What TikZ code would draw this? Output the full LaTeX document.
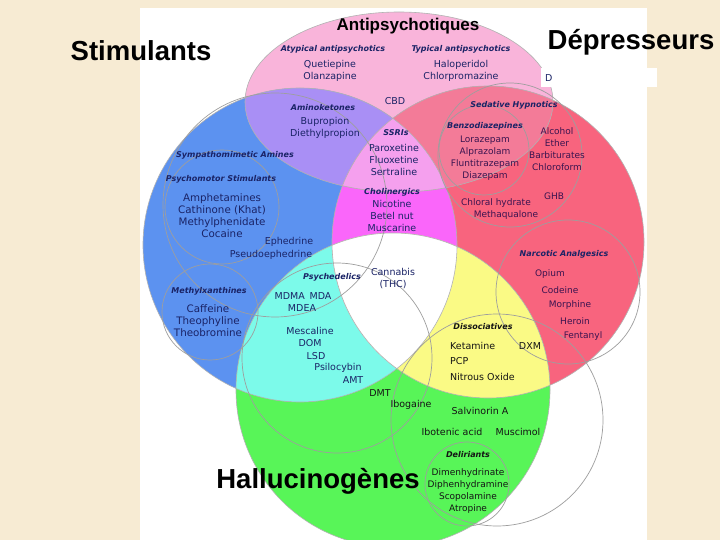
\documentclass[tikz,border=0pt]{standalone}
\usepackage{fontspec}
\setmainfont{DejaVu Sans}
\newfontfamily\titrefont{Liberation Sans}

\definecolor{fond}{HTML}{F7EBD3}
\definecolor{cRose}{HTML}{F9B4DA}
\definecolor{cViolet}{HTML}{A98FF5}
\definecolor{cBleu}{HTML}{5C92F0}
\definecolor{cRouge}{HTML}{F8647E}
\definecolor{cSaumon}{HTML}{F37B98}
\definecolor{cMauve}{HTML}{F5A0EE}
\definecolor{cMagenta}{HTML}{FA66FA}
\definecolor{cCyan}{HTML}{7CFAEA}
\definecolor{cJaune}{HTML}{FAFA85}
\definecolor{cVert}{HTML}{58F558}
\definecolor{cEncre}{HTML}{1A2366}
\definecolor{cPrune}{HTML}{3A1450}
\definecolor{cNoir}{HTML}{141414}

% les quatre grands cercles
\newcommand\cAntipsy{(399,102) ellipse [x radius=154, y radius=90]}
\newcommand\cStim{(300,245) circle [radius=157]}
\newcommand\cDepr{(488,242) circle [radius=156]}
\newcommand\cHallu{(393,390) circle [radius=157]}

\begin{document}
\begin{tikzpicture}[x=1pt,y=-1pt,
    titre/.style={font=\titrefont\bfseries\fontsize{27.5}{30}\selectfont, anchor=base, inner sep=0pt},
    groupe/.style={font=\fontsize{8}{10}\selectfont\bfseries\itshape, text=cEncre, inner sep=0pt},
    liste/.style={font=\fontsize{9.5}{12}\selectfont, text=cEncre, align=center, inner sep=0pt},
    grande/.style={font=\fontsize{10.3}{12}\selectfont, text=cEncre, align=center, inner sep=0pt},
    petite/.style={font=\fontsize{9}{12}\selectfont, text=cPrune, align=center, inner sep=0pt},
    sous/.style={draw=black!38, line width=0.7pt}]
    \useasboundingbox (0,0) rectangle (720,540);

    % Fond
    \fill[fond] (0,0) rectangle (720,540);
    \fill[white] (140,8) rectangle (647,540);

    % Cercles colores
    \begin{scope}
        \clip (140,8) rectangle (647,540);
        \fill[cRose] \cAntipsy;
        \fill[cBleu] \cStim;
        \fill[cRouge] \cDepr;
        \fill[cVert] \cHallu;
        \begin{scope}
            \clip \cStim;
            \fill[cViolet] \cAntipsy;
            \fill[cCyan] \cHallu;
        \end{scope}
        \begin{scope}
            \clip \cDepr;
            \fill[cMagenta] \cStim;
            \fill[cSaumon] \cAntipsy;
            \fill[cJaune] \cHallu;
            \clip \cStim;
            \fill[cMauve] \cAntipsy;
            \fill[white] \cHallu;
        \end{scope}

        % Contours
        \draw[draw=black!30, line width=0.6pt] \cAntipsy \cStim \cDepr \cHallu;
        \draw[sous] (275,205) circle [radius=112];  % amines
        \draw[sous] (222,207) circle [radius=57];   % psychomoteurs
        \draw[sous] (210,312) circle [radius=48];   % methylxanthines
        \draw[sous] (337,358) circle [radius=95];   % psychedeliques
        \draw[sous] (510,155) circle [radius=72];   % sedatifs
        \draw[sous] (484,150) circle [radius=45];   % benzodiazepines
        \draw[sous] (568,292) circle [radius=72];   % narcotiques
        \draw[sous] (497,420) circle [radius=106];  % dissociatifs
        \draw[sous] (467,484) circle [radius=42];   % deliriants
    \end{scope}

    % Encart blanc
    \fill[white] (541,68) rectangle (657,87);
    \node[liste, anchor=west] (dcoupe) at (545,78) {D};

    % Grands titres
    \node[titre] (stim) at (141,61) {Stimulants};
    \node[titre] (depr) at (631,50) {Dépresseurs};
    \node[titre] (hallu) at (318,488) {Hallucinogènes};
    \node[titre, font=\titrefont\bfseries\fontsize{17}{20}\selectfont] (antipsy) at (408,31) {Antipsychotiques};

    % Antipsychotiques
    \node[groupe] (atyp) at (333,49) {Atypical antipsychotics};
    \node[liste] (atypl) at (330,71) {Quetiepine\\Olanzapine};
    \node[groupe] (typ) at (461,49) {Typical antipsychotics};
    \node[liste] (typl) at (461,71) {Haloperidol\\Chlorpromazine};
    \node[groupe] (amino) at (323,108) {Aminoketones};
    \node[liste] (aminol) at (325,128) {Bupropion\\Diethylpropion};
    \node[liste] (cbd) at (395,101) {CBD};

    % Stimulants
    \node[groupe] (sympa) at (235,155) {Sympathomimetic Amines};
    \node[groupe] (psymo) at (221,179) {Psychomotor Stimulants};
    \node[grande] (psymol) at (222,216) {Amphetamines\\Cathinone (Khat)\\Methylphenidate\\Cocaine};
    \node[liste] (ephed) at (289,242) {Ephedrine};
    \node[liste] (pseudo) at (271,255) {Pseudoephedrine};
    \node[groupe] (methyl) at (209,291) {Methylxanthines};
    \node[grande] (methyll) at (208,321) {Caffeine\\Theophyline\\Theobromine};

    % Zone centrale
    \node[groupe] (ssri) at (396,133) {SSRIs};
    \node[liste] (ssril) at (394,160) {Paroxetine\\Fluoxetine\\Sertraline};
    \node[groupe] (cholin) at (392,192) {Cholinergics};
    \node[liste] (cholinl) at (392,216) {Nicotine\\Betel nut\\Muscarine};
    \node[liste] (cannabis) at (393,279) {Cannabis\\(THC)};

    % Depresseurs
    \node[groupe] (sedat) at (514,105) {Sedative Hypnotics};
    \node[groupe] (benzo) at (485,126) {Benzodiazepines};
    \node[petite] (benzol) at (485,158) {Lorazepam\\Alprazolam\\Fluntitrazepam\\Diazepam};
    \node[petite] (alcool) at (557,149) {Alcohol\\Ether\\Barbiturates\\Chloroform};
    \node[petite] (ghb) at (554,196) {GHB};
    \node[petite] (chloral) at (496,203) {Chloral hydrate};
    \node[petite] (methaq) at (506,215) {Methaqualone};
    \node[groupe] (narco) at (564,254) {Narcotic Analgesics};
    \node[petite] (opium) at (550,274) {Opium};
    \node[petite] (codeine) at (560,290) {Codeine};
    \node[petite] (morph) at (570,305) {Morphine};
    \node[petite] (heroin) at (575,321) {Heroin};
    \node[petite] (fenta) at (583,336) {Fentanyl};

    % Hallucinogenes
    \node[groupe] (psyche) at (332,277) {Psychedelics};
    \node[liste] (mdma) at (303,296) {MDMA\enspace MDA};
    \node[liste] (mdea) at (302,308) {MDEA};
    \node[liste] (mesca) at (310,331) {Mescaline};
    \node[liste] (dom) at (310,343) {DOM};
    \node[liste] (lsd) at (316,356) {LSD};
    \node[liste] (psilo) at (338,368) {Psilocybin};
    \node[liste] (amt) at (353,380) {AMT};
    \node[liste, text=cNoir] (dmt) at (380,393) {DMT};
    \node[liste, text=cNoir] (ibog) at (411,405) {Ibogaine};
    \node[liste, text=cNoir] (salvi) at (480,411) {Salvinorin A};
    \node[liste, text=cNoir] (ibot) at (452,432) {Ibotenic acid};
    \node[liste, text=cNoir] (musci) at (518,432) {Muscimol};
    \node[groupe, text=cNoir] (dissoc) at (483,327) {Dissociatives};
    \node[liste, text=cNoir, anchor=west] (ketam) at (450,346) {Ketamine};
    \node[liste, text=cNoir] (dxm) at (530,346) {DXM};
    \node[liste, text=cNoir, anchor=west] (pcp) at (450,361) {PCP};
    \node[liste, text=cNoir, anchor=west] (nitrous) at (450,377) {Nitrous Oxide};
    \node[groupe, text=cNoir] (delir) at (468,455) {Deliriants};
    \node[petite, text=cNoir] (delirl) at (468,491) {Dimenhydrinate\\Diphenhydramine\\Scopolamine\\Atropine};
\end{tikzpicture}
\end{document}
